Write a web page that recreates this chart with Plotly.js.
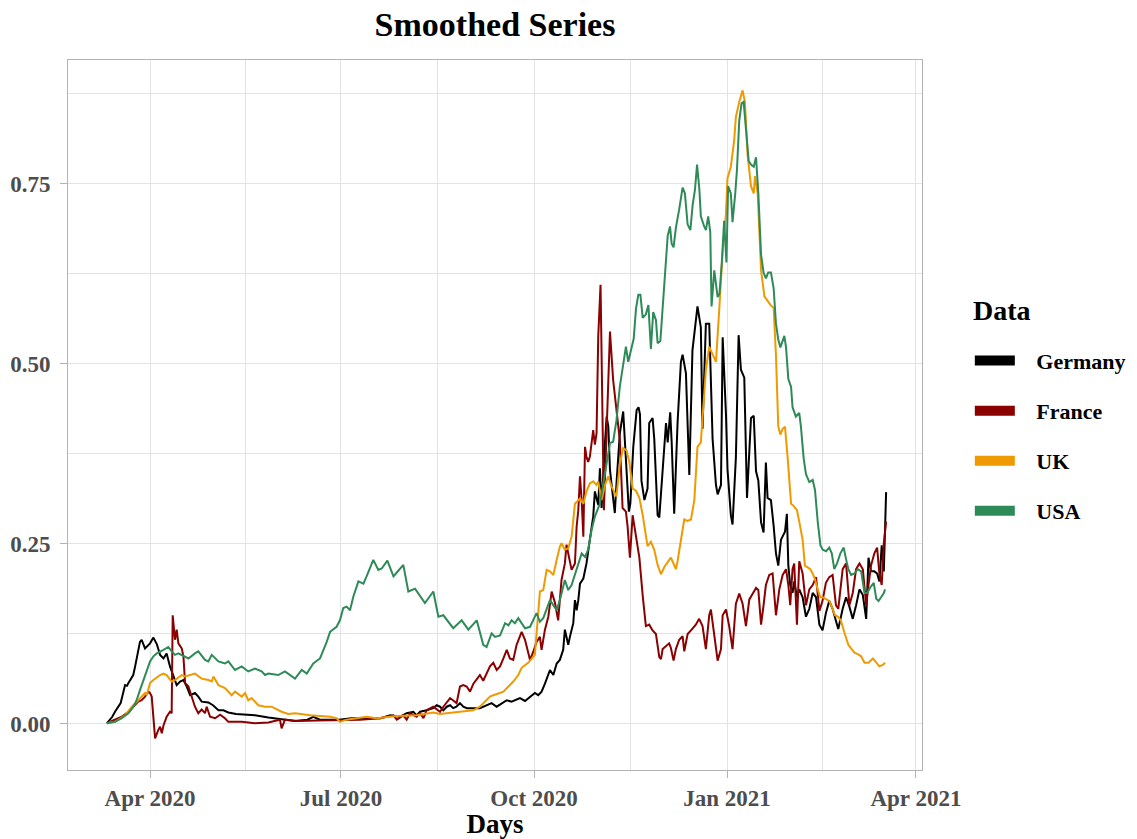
<!DOCTYPE html>
<html>
<head>
<meta charset="utf-8">
<script src="https://cdn.plot.ly/plotly-3.0.1.min.js"></script>
<style>html,body{margin:0;padding:0;background:#fff;}#chart{width:1137px;height:839px;}</style>
</head>
<body>
<div id="chart"></div>
<script>
// Days since 2020-04-01 and smoothed values
const germanyDays = [-20.6,-18,-16.7,-14,-11.9,-11,-10.3,-8,-7.1,-4.8,
-4,-2.4,0,1.6,3.2,4.8,6.4,7.9,9.5,11.1,
12.7,14.3,15.9,17.5,19.1,21.4,23,24.6,27.8,30,
32.6,35,37.3,41,45,50,56.4,62.7,69,75,
77.8,81,90,96,110,114.4,119,122.3,125.5,127,
128.7,131.8,135,136.6,138.2,139.8,141.4,143,144.5,146,
147.7,149.3,151,157.2,160.4,162.8,165.2,167.6,170,172.3,
176.3,178.7,181.1,183.4,185,186.6,188.2,190.6,192.2,193.8,
195.3,196.9,197.7,199.3,200.1,201.7,202.5,203.3,204.1,204.9,
206.5,208,209.6,211.2,212,212.8,213.6,214.4,215.2,216.8,
217.6,218.4,219.2,219.9,221.5,222.3,223.9,225.5,227.1,228.2,
228.9,230.3,231.9,232.8,233.5,234.2,235.6,237.1,237.9,239.5,
240.3,241.9,242.7,244.3,245.9,246.7,247.9,248.6,249.8,251.4,
253,253.8,255.4,257,258.5,260.9,262.5,263.3,264.9,266.5,
268.1,269.7,270.5,272.1,272.9,274.5,275.2,276.8,277.6,279.2,
280.5,281.6,283.2,284.5,286.4,287.7,288.8,289.9,291.2,292.4,
293.5,294.3,295.9,297.2,298.3,299.4,300.7,302.6,303.5,304.2,
305.1,306.2,307,308.3,309.4,311,312.6,314.2,315.8,317.4,
319,320.5,322.1,323.7,325.3,326.9,328,330.1,331.7,333.3,
334.9,336.5,338.1,339.7,341.3,342.4,343.6,345.2,346.5,347.6,
348.7,349.7,350.8];
const germanyValues = [0.001,0.010,0.017,0.029,0.054,0.053,0.057,0.068,0.080,0.114,
0.117,0.105,0.112,0.120,0.111,0.096,0.091,0.098,0.080,0.066,
0.054,0.059,0.061,0.052,0.040,0.043,0.038,0.031,0.030,0.026,
0.019,0.019,0.016,0.014,0.013,0.012,0.009,0.007,0.004,0.006,
0.010,0.006,0.006,0.008,0.008,0.012,0.010,0.015,0.017,0.012,
0.017,0.019,0.022,0.026,0.024,0.019,0.024,0.026,0.022,0.024,
0.029,0.024,0.022,0.022,0.026,0.029,0.024,0.029,0.033,0.031,
0.036,0.032,0.038,0.043,0.040,0.045,0.056,0.075,0.068,0.084,
0.089,0.103,0.131,0.110,0.121,0.140,0.172,0.158,0.172,0.195,
0.202,0.223,0.256,0.288,0.323,0.311,0.304,0.355,0.300,0.390,
0.427,0.413,0.353,0.334,0.293,0.334,0.404,0.434,0.357,0.295,
0.306,0.385,0.436,0.440,0.430,0.338,0.311,0.327,0.418,0.425,
0.396,0.290,0.287,0.359,0.418,0.391,0.433,0.391,0.292,0.418,
0.503,0.513,0.487,0.346,0.519,0.580,0.551,0.410,0.556,0.556,
0.396,0.332,0.319,0.332,0.537,0.428,0.354,0.290,0.277,0.370,
0.540,0.492,0.481,0.314,0.425,0.428,0.351,0.338,0.280,0.266,
0.363,0.314,0.311,0.275,0.237,0.220,0.256,0.267,0.292,0.220,
0.193,0.182,0.198,0.176,0.187,0.176,0.149,0.160,0.182,0.176,
0.138,0.130,0.154,0.171,0.160,0.143,0.132,0.160,0.176,0.163,
0.146,0.165,0.187,0.179,0.146,0.231,0.212,0.212,0.209,0.198,
0.248,0.212,0.322];

const franceDays = [-20.6,-16.7,-13.5,-10.3,-7.9,-5.6,-4,-2.4,-0.8,0,
0.8,1.6,2.4,4,4.8,5.6,6.4,7.9,9.5,10.3,
10.8,11.9,12.7,13.5,15.1,15.9,16.7,18.3,19.9,21.4,
23,24.6,26.2,27,28.6,31,33.4,35.7,37.3,43.7,
50,56.4,61.9,62.7,64.3,70,80,100,109.6,116,
117.6,120.7,122.3,123.9,127,128.7,130.3,131.8,135,138.2,
139.8,143,146.1,147.7,149.3,150.9,152.5,154.1,157.2,158.8,
162,163.6,165.2,166.8,168.4,170,171.5,173.1,174.7,177.1,
178.7,181.1,182.6,184.2,185.8,186.6,188.2,189.8,191.4,193,
194.5,196.1,197.7,198.5,199.3,200.9,202.5,203.3,204.1,204.9,
205.7,206.5,207.3,208,208.8,209.6,211.2,212,212.8,213.6,
214.7,215.5,216.3,217.6,219.2,220.7,222.3,223.9,225.2,226.8,
227.6,228.7,230,231.6,233.2,234.8,236.3,237.9,239.5,241.1,
242.7,243.5,244.3,247.4,248.2,249.5,250.6,252.2,253.8,254.6,
256.2,257.8,260.1,261.7,263.3,264.9,266.5,267.3,268.9,270.5,
272.1,272.9,274.5,276,277.6,279.2,280.8,282.4,284,285.6,
287.2,288.8,289.9,291.2,292.4,293.5,295.1,296.7,298.3,299.9,
301.5,303.1,304.2,305.1,306.2,307,308.3,309.4,311,312.6,
314.2,315.8,317.4,319,320.5,322.1,323.7,325.3,326.9,328,
330.1,331.7,333.3,334.9,336.5,338.1,339.7,341.3,342.4,343.6,
345.2,346.5,347.6,348.7,349.7,350.8];
const franceValues = [0.001,0.006,0.010,0.017,0.024,0.031,0.033,0.038,0.045,0.043,
0.038,0.010,-0.020,-0.008,-0.004,-0.013,-0.002,0.010,0.017,0.015,
0.151,0.117,0.131,0.112,0.105,0.094,0.057,0.052,0.038,0.024,
0.015,0.020,0.015,0.024,0.010,0.008,0.013,0.008,0.003,0.003,
0.001,0.002,0.006,-0.006,0.006,0.004,0.005,0.006,0.008,0.012,
0.006,0.012,0.006,0.015,0.010,0.015,0.008,0.019,0.024,0.017,
0.024,0.036,0.029,0.052,0.054,0.052,0.045,0.056,0.068,0.060,
0.080,0.085,0.075,0.080,0.091,0.103,0.091,0.089,0.110,0.128,
0.117,0.089,0.100,0.114,0.121,0.103,0.131,0.149,0.184,0.168,
0.144,0.200,0.223,0.249,0.237,0.214,0.223,0.274,0.297,0.344,
0.311,0.260,0.385,0.371,0.364,0.371,0.408,0.388,0.404,0.538,
0.610,0.469,0.297,0.408,0.545,0.478,0.436,0.394,0.300,0.295,
0.274,0.231,0.290,0.258,0.231,0.178,0.136,0.138,0.130,0.125,
0.093,0.090,0.104,0.112,0.106,0.088,0.104,0.117,0.122,0.101,
0.125,0.130,0.138,0.146,0.136,0.104,0.151,0.159,0.120,0.088,
0.104,0.151,0.159,0.136,0.104,0.167,0.181,0.167,0.136,0.173,
0.181,0.189,0.186,0.138,0.165,0.193,0.207,0.209,0.151,0.187,
0.207,0.215,0.193,0.165,0.215,0.223,0.138,0.226,0.209,0.165,
0.187,0.193,0.204,0.157,0.171,0.196,0.204,0.207,0.165,0.160,
0.215,0.223,0.165,0.182,0.215,0.223,0.215,0.165,0.193,0.220,
0.237,0.245,0.209,0.193,0.251,0.281];

const ukDays = [-20.6,-16.7,-11.9,-8.7,-5.6,-2.4,-1.6,0,1.6,4.8,
6.4,7.9,10.3,11.9,15.1,16.7,21.4,24.6,27.8,29.4,
30.2,32.6,35.7,38.9,40.5,43.7,45.3,46.8,48.4,51.6,
54.8,57.9,62.7,65.9,69.1,76.3,85.8,88.9,90.5,93.7,
103.2,107.9,117.5,127,135,138.2,147.7,154,157.2,160.4,
162,163.6,166,168.4,170.8,173.1,175.5,177.1,180.2,183.4,
185,185.8,187.4,189,190.6,192.2,193.8,195.3,196.1,197.7,
199.3,200.9,202.5,204.9,206.5,208,209.6,211.2,212.8,213.6,
215.2,216.8,218.4,219.9,222.3,223.9,225.5,227.1,228.4,230,
231.6,233.2,234.8,236.3,237.1,238.7,240.3,241.9,243.5,245.1,
248.2,249,250.6,251.4,253,254.6,256.2,257.8,259.4,260.9,
262.5,263.3,264.9,266.5,268.1,269.7,271.3,272.9,274.5,275.2,
276.8,278.4,279.2,280.8,282.4,283.5,284.8,286.4,287.7,288.3,
289.6,291.2,292.8,294.1,295.9,297.2,298.3,299.4,300.4,301.5,
302.6,303.9,305.5,306.7,308.3,309.4,311,312.1,314.7,315.8,
316.9,318.2,319.5,320.6,323.7,325.3,326.4,328,329.3,330.9,
332.8,334.1,335.7,337.3,338.9,340.5,342.4,344.5,346.1,347.6,
349.2,350.3];
const ukValues = [0.001,0.003,0.012,0.024,0.033,0.043,0.040,0.057,0.061,0.068,
0.070,0.068,0.059,0.061,0.068,0.066,0.070,0.063,0.061,0.059,
0.066,0.054,0.050,0.040,0.045,0.038,0.043,0.033,0.036,0.026,
0.024,0.024,0.017,0.014,0.015,0.012,0.010,0.008,0.003,0.006,
0.010,0.008,0.011,0.012,0.016,0.014,0.017,0.019,0.024,0.034,
0.038,0.040,0.043,0.045,0.052,0.059,0.068,0.078,0.085,0.096,
0.154,0.184,0.186,0.214,0.212,0.207,0.228,0.246,0.251,0.242,
0.244,0.260,0.306,0.313,0.306,0.323,0.334,0.337,0.332,0.337,
0.311,0.332,0.344,0.330,0.316,0.362,0.383,0.380,0.364,0.327,
0.324,0.314,0.290,0.258,0.247,0.253,0.242,0.221,0.208,0.218,
0.231,0.226,0.215,0.226,0.258,0.284,0.282,0.284,0.311,0.385,
0.391,0.428,0.492,0.524,0.513,0.503,0.577,0.657,0.710,0.758,
0.774,0.811,0.843,0.864,0.880,0.864,0.790,0.747,0.737,0.761,
0.737,0.630,0.594,0.589,0.581,0.578,0.512,0.413,0.402,0.410,
0.413,0.369,0.306,0.303,0.297,0.281,0.256,0.220,0.215,0.209,
0.201,0.187,0.176,0.176,0.171,0.160,0.151,0.149,0.143,0.127,
0.110,0.105,0.099,0.097,0.094,0.085,0.085,0.091,0.085,0.080,
0.082,0.085];

const usaDays = [-20.6,-16.7,-13.5,-10.3,-7.9,-6.4,-4.8,-3.2,-1.6,0,
1.6,3.2,6.4,8.7,10.3,11.9,13.5,16.7,18.3,21.4,
23,26.2,27.8,29.4,32.6,35.7,37.3,40.5,43.7,46.8,
50,53.2,54.8,56.4,61.1,64.3,67.5,69.1,72.3,74.7,
77.8,81,84.2,85.8,88.9,90.5,92.1,93.7,95.3,96.9,
99.3,101.7,103.2,106.4,108.8,110.4,113.1,116,117.2,120.7,
123.1,124.7,126.3,131,135,137.4,139.8,144.5,148.5,151.7,
155.7,158.8,160.4,162.8,164.4,166.8,169.2,170.8,172.3,173.9,
175.5,178.7,181.1,184.2,185.8,187.4,190.6,193.8,195.3,197.7,
199.3,200.9,204.1,205.7,207.3,208.8,210.4,212,214.4,215.9,
217.6,219.2,220.7,222.3,223.9,226,226.8,227.9,229.2,230.5,
231.6,232.7,233.7,234.8,236.3,237.5,238.7,239.8,241.1,241.9,
243.2,244.3,245.4,246.7,247.8,248.6,249.5,250.6,252.2,253.8,
254.9,256.2,257.5,258.6,259.7,260.7,261.8,262.5,264.1,264.9,
266,267,267.6,268.9,270.5,271.4,272.5,273.6,274.7,275.5,
276.8,277.6,278.9,279.7,280.8,281.9,282.9,284,285.3,286.4,
287.7,288.8,289.9,291.2,292.4,293.5,294.6,295.9,297.2,298.3,
299.4,300.4,301.5,302.3,303.1,304.2,305.5,306.2,307.8,309.4,
310.2,311.5,312.6,314.2,315.8,316.9,318.2,319.5,320.6,322.2,
323.7,324.9,326.1,327.4,329,330.6,331.7,332.8,334.1,335.7,
337.3,338.9,340.5,341.8,343.3,344.9,346.1,347.2,348.4,349.7,
350.3];
const usaValues = [0.001,0.003,0.008,0.015,0.024,0.033,0.047,0.061,0.075,0.087,
0.094,0.098,0.103,0.107,0.101,0.096,0.098,0.094,0.091,0.098,
0.101,0.089,0.087,0.096,0.087,0.084,0.087,0.075,0.080,0.073,
0.077,0.073,0.068,0.070,0.068,0.073,0.066,0.063,0.075,0.070,
0.084,0.091,0.114,0.128,0.135,0.144,0.161,0.163,0.158,0.177,
0.198,0.195,0.205,0.228,0.214,0.216,0.227,0.205,0.209,0.221,
0.184,0.186,0.188,0.168,0.184,0.149,0.151,0.133,0.144,0.131,
0.144,0.110,0.107,0.126,0.121,0.123,0.140,0.137,0.144,0.140,
0.147,0.133,0.135,0.154,0.142,0.147,0.172,0.158,0.172,0.200,
0.186,0.193,0.223,0.237,0.232,0.242,0.269,0.288,0.306,0.334,
0.364,0.390,0.392,0.422,0.469,0.513,0.524,0.503,0.519,0.535,
0.577,0.596,0.596,0.564,0.569,0.582,0.521,0.572,0.561,0.529,
0.532,0.577,0.630,0.678,0.691,0.667,0.662,0.689,0.715,0.745,
0.737,0.694,0.686,0.721,0.742,0.777,0.742,0.705,0.691,0.686,
0.705,0.683,0.580,0.630,0.593,0.598,0.641,0.699,0.641,0.747,
0.737,0.697,0.737,0.769,0.838,0.862,0.864,0.822,0.782,0.777,
0.774,0.787,0.737,0.652,0.627,0.619,0.627,0.627,0.605,0.556,
0.534,0.523,0.534,0.539,0.523,0.479,0.468,0.440,0.427,0.432,
0.413,0.369,0.347,0.336,0.339,0.325,0.281,0.248,0.242,0.240,
0.245,0.237,0.215,0.223,0.237,0.245,0.229,0.215,0.207,0.209,
0.215,0.212,0.182,0.182,0.190,0.196,0.174,0.171,0.176,0.182,
0.187];

const seriesNames = ['Germany', 'France', 'UK', 'USA'];
const seriesColors = ['#000000', '#8B0000', '#EE9A00', '#2E8B57'];
const legendTitle = 'Data';
const xTickDates = ['2020-04-01', '2020-07-01', '2020-10-01', '2021-01-01', '2021-04-01'];
const xTickLabels = ['Apr 2020', 'Jul 2020', 'Oct 2020', 'Jan 2021', 'Apr 2021'];
const xMinorDates = ['2020-05-16 12:00', '2020-08-16', '2020-11-16', '2021-02-15 12:00'];
const yTickValues = [0, 0.25, 0.5, 0.75];
const yTickLabels = ['0.00', '0.25', '0.50', '0.75'];
const yMinorValues = [0.125, 0.375, 0.625, 0.875];

const BASE = Date.UTC(2020, 3, 1);
function toDate(d) {
  return new Date(BASE + d * 86400000).toISOString().slice(0, 19).replace('T', ' ');
}

const allDays = [germanyDays, franceDays, ukDays, usaDays];
const allValues = [germanyValues, franceValues, ukValues, usaValues];
const FONT = 'Liberation Serif, Times New Roman, serif';
const GAP = '\u00a0\u00a0\u00a0';

const traces = [];
seriesNames.forEach(function (name, i) {
  traces.push({
    type: 'scatter', mode: 'lines', name: name,
    x: allDays[i].map(toDate), y: allValues[i],
    line: {color: seriesColors[i], width: 2},
    legendgroup: name, showlegend: false, hoverinfo: 'x+y+name'
  });
});
seriesNames.forEach(function (name, i) {
  traces.push({
    type: 'scatter', mode: 'lines', name: GAP + name,
    x: [null], y: [null],
    line: {color: seriesColors[i], width: 12},
    legendgroup: name, showlegend: true, hoverinfo: 'skip'
  });
});

const gridColor = '#E3E3E3';
const layout = {
  width: 1137, height: 839,
  margin: {l: 68, r: 215, t: 60, b: 69, autoexpand: false},
  paper_bgcolor: '#ffffff', plot_bgcolor: '#ffffff',
  font: {family: FONT, color: '#000000'},
  showlegend: true,
  title: {
    text: '<b>Smoothed Series</b>',
    font: {family: FONT, size: 34, color: '#000000'},
    x: 0.5, xref: 'paper', xanchor: 'center',
    y: 1 - 24 / 839, yref: 'container', yanchor: 'middle'
  },
  xaxis: {
    type: 'date',
    range: [toDate(-39.1), toDate(367.9)],
    tickmode: 'array', tickvals: xTickDates, ticktext: xTickLabels,
    tickfont: {family: FONT, size: 23, color: '#4D4D4D', weight: 'bold'},
    ticks: 'outside', ticklen: 7, tickwidth: 1, tickcolor: '#B3B3B3',
    showgrid: true, gridcolor: gridColor, gridwidth: 1,
    minor: {tickmode: 'array', tickvals: xMinorDates, showgrid: true, gridcolor: gridColor, gridwidth: 1, ticks: ''},
    showline: true, linecolor: '#B3B3B3', linewidth: 1, mirror: true,
    zeroline: false, automargin: false,
    title: {text: '<b>Days</b>', font: {family: FONT, size: 27, color: '#000000'}, standoff: 2}
  },
  yaxis: {
    range: [-0.0639, 0.9222],
    tickmode: 'array', tickvals: yTickValues, ticktext: yTickLabels,
    tickfont: {family: FONT, size: 23, color: '#4D4D4D', weight: 'bold'},
    ticks: 'outside', ticklen: 7, tickwidth: 1, tickcolor: '#B3B3B3',
    ticklabelstandoff: 5,
    showgrid: true, gridcolor: gridColor, gridwidth: 1,
    minor: {tickmode: 'array', tickvals: yMinorValues, showgrid: true, gridcolor: gridColor, gridwidth: 1, ticks: ''},
    showline: true, linecolor: '#B3B3B3', linewidth: 1, mirror: true,
    zeroline: false, automargin: false
  },
  legend: {
    x: 1.056, xanchor: 'left', y: 0.606, yanchor: 'top',
    font: {family: FONT, size: 22, color: '#000000', weight: 'bold'},
    traceorder: 'grouped', tracegroupgap: 18.5,
    bgcolor: 'rgba(0,0,0,0)', borderwidth: 0, itemwidth: 40
  },
  annotations: [{
    text: '<b>' + legendTitle + '</b>',
    xref: 'paper', yref: 'paper', x: 1.0574, y: 1 - (310 - 60) / 710,
    xanchor: 'left', yanchor: 'middle', showarrow: false,
    font: {family: FONT, size: 28, color: '#000000'}
  }]
};

Plotly.newPlot('chart', traces, layout, {displayModeBar: false, staticPlot: true});
</script>
</body>
</html>
